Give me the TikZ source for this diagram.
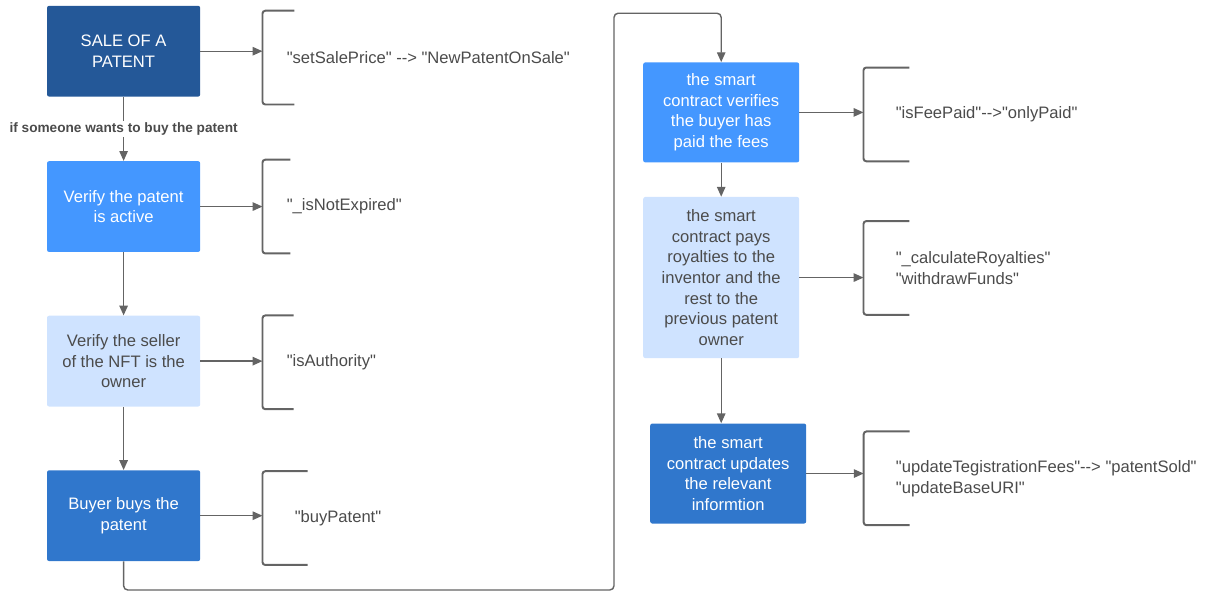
\documentclass[tikz,border=0pt]{standalone}
\usepackage{fontspec}
\setmainfont{Liberation Sans}[Ligatures=TeXOff]
\usetikzlibrary{arrows.meta, positioning}
\definecolor{saledark}{RGB}{36,88,152}
\definecolor{stepblue}{RGB}{68,151,255}
\definecolor{steplight}{RGB}{207,227,255}
\definecolor{stepmid}{RGB}{48,119,204}
\definecolor{linegray}{RGB}{100,100,100}
\definecolor{textgray}{RGB}{75,75,75}

\begin{document}
\begin{tikzpicture}[
  box/.style={rectangle, rounded corners=1.5pt, fill=stepblue, text=white, minimum width=3.83cm, minimum height=2.27cm, inner sep=2pt, align=center, font=\fontsize{11.8}{14.6}\selectfont},
  lightbox/.style={box, fill=steplight, text=textgray},
  call/.style={rectangle, minimum height=2.33cm, align=left, inner xsep=0.6cm, inner ysep=0pt, text=textgray, font=\fontsize{11.8}{14.8}\selectfont},
  brace/.style={draw=linegray, line width=1.4pt, rounded corners=2pt},
  flow/.style={draw=linegray, line width=1pt, -{Triangle[length=7pt,width=6pt]}},
  cond/.style={fill=white, inner sep=1pt, text=textgray, font=\fontsize{9.7}{11}\selectfont\bfseries}
]
  \useasboundingbox (0,0) rectangle (30.275,-14.8);

  % Left column
  \node[box, fill=saledark] (sale) at (3.09,-1.28) {SALE OF A\\PATENT};
  \node[box, below=1.6cm of sale] (active) {Verify the patent\\is active};
  \node[lightbox, below=1.58cm of active] (owner) {Verify the seller\\of the NFT is the\\owner};
  \node[box, fill=stepmid, below=1.58cm of owner] (buy) {Buyer buys the\\patent};

  % Right column
  \node[box, minimum width=3.9cm, minimum height=2.5cm] (fees) at (18.03,-2.81) {the smart\\contract verifies\\the buyer has\\paid the fees};
  \node[lightbox, minimum width=3.9cm, minimum height=4.03cm, below=0.85cm of fees] (royal) {the smart\\contract pays\\royalties to the\\inventor and the\\rest to the\\previous patent\\owner};
  \node[box, fill=stepmid, minimum width=3.9cm, minimum height=2.5cm, below=1.62cm of royal, xshift=0.175cm] (update) {the smart\\contract updates\\the relevant\\informtion};

  % Function calls
  \node[call, right=1.55cm of sale, yshift=-0.16cm] (setprice) {"setSalePrice" --> "NewPatentOnSale"};
  \node[call, right=1.55cm of active] (expired) {"\_isNotExpired"};
  \node[call, right=1.55cm of owner, yshift=-0.03cm] (authority) {"isAuthority"};
  \node[call, inner xsep=0.8cm, right=1.55cm of buy, yshift=-0.06cm] (buypatent) {"buyPatent"};
  \node[call, inner xsep=0.8cm, right=1.6cm of fees, yshift=-0.05cm] (feepaid) {"isFeePaid"-->"onlyPaid"};
  \node[call, inner xsep=0.8cm, right=1.6cm of royal, yshift=0.24cm] (royalties) {"\_calculateRoyalties"\\"withdrawFunds"};
  \node[call, inner xsep=0.8cm, right=1.43cm of update, yshift=-0.12cm] (patentsold) {"updateTegistrationFees"--> "patentSold"\\"updateBaseURI"};

  % Brackets
  \draw[brace] ([xshift=0.8cm]setprice.north west) -- (setprice.north west) -- (setprice.south west) -- ([xshift=0.8cm]setprice.south west);
  \draw[brace] ([xshift=0.7cm]expired.north west) -- (expired.north west) -- (expired.south west) -- ([xshift=0.7cm]expired.south west);
  \draw[brace] ([xshift=0.78cm]authority.north west) -- (authority.north west) -- (authority.south west) -- ([xshift=0.78cm]authority.south west);
  \draw[brace] ([xshift=1.13cm]buypatent.north west) -- (buypatent.north west) -- (buypatent.south west) -- ([xshift=1.13cm]buypatent.south west);
  \draw[brace] ([xshift=1.15cm]feepaid.north west) -- (feepaid.north west) -- (feepaid.south west) -- ([xshift=1.15cm]feepaid.south west);
  \draw[brace] ([xshift=1.15cm]royalties.north west) -- (royalties.north west) -- (royalties.south west) -- ([xshift=1.15cm]royalties.south west);
  \draw[brace] ([xshift=1.15cm]patentsold.north west) -- (patentsold.north west) -- (patentsold.south west) -- ([xshift=1.15cm]patentsold.south west);

  % Flow
  \draw[flow] (sale) -- node[cond] (ifbuy) {if someone wants to buy the patent} (active);
  \draw[flow] (active) -- (owner);
  \draw[flow] (owner) -- (buy);
  \coordinate (loopbottom) at (0,-14.75);
  \coordinate (loopcorner) at (15.35,-0.33);
  \draw[flow, rounded corners=3pt] (buy.south) -- (buy.south |- loopbottom) -| (loopcorner) -| (fees.north);
  \draw[flow] (fees) -- (royal);
  \draw[flow] (royal.south) -- (royal.south |- update.north);

  % Calls
  \draw[flow] (sale.east) -- (sale.east -| setprice.west);
  \draw[flow] (active.east) -- (active.east -| expired.west);
  \draw[flow] (owner.east) -- (owner.east -| authority.west);
  \draw[flow] (buy.east) -- (buy.east -| buypatent.west);
  \draw[flow] (fees.east) -- (fees.east -| feepaid.west);
  \draw[flow] (royal.east) -- (royal.east -| royalties.west);
  \draw[flow] (update.east) -- (update.east -| patentsold.west);
\end{tikzpicture}
\end{document}
